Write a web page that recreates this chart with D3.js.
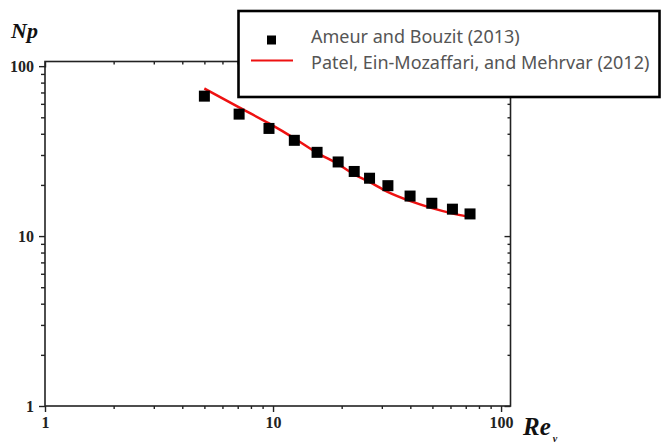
<!DOCTYPE html>
<html>
<head>
<meta charset="utf-8">
<script src="https://cdn.jsdelivr.net/npm/d3@7"></script>
<style>
  body { margin: 0; background: #fff; }
  svg { display: block; }
</style>
</head>
<body>
<div id="chart"></div>
<script>
// Ameur and Bouzit (2013) - square markers
var ameurRe = [5.0, 7.1, 9.6, 12.4, 15.6, 19.3, 22.7, 26.5, 31.9, 39.9, 49.7, 61.2, 73.1];
var ameurNp = [66.6, 52.2, 43.0, 36.6, 31.1, 27.3, 24.0, 21.9, 19.8, 17.2, 15.6, 14.4, 13.5];

// Patel, Ein-Mozaffari, and Mehrvar (2012) - red curve
var patelRe = [5.0, 7.1, 9.6, 12.4, 15.6, 19.3, 22.6, 26.3, 31.8, 39.8, 49.8, 61.1, 71.6];
var patelNp = [73.9, 57.2, 46.0, 37.6, 30.9, 26.5, 23.1, 20.9, 18.2, 16.1, 14.6, 13.6, 13.0];

var majorTicks = [1, 10, 100];
var minorTicks = [2, 3, 4, 5, 6, 7, 8, 9, 20, 30, 40, 50, 60, 70, 80, 90];

var legendLabels = ['Ameur and Bouzit (2013)', 'Patel, Ein-Mozaffari, and Mehrvar (2012)'];

var chart_width = 661;
var chart_height = 443;
// plot frame edges (note: "top" is reserved on window, so use plot_*)
var plot_left = 45, plot_right = 510.5, plot_top = 61.5, plot_bottom = 406;

var svg = d3.select('#chart')
    .append('svg')
    .attr('width', chart_width)
    .attr('height', chart_height);

var xScale = d3.scaleLog()
    .domain([1, 110])
    .range([plot_left, plot_right]);

var yScale = d3.scaleLog()
    .domain([1, 106.5])
    .range([plot_bottom, plot_top]);

var axisColor = '#222';

// frame
svg.append('rect')
    .attr('x', plot_left)
    .attr('y', plot_top)
    .attr('width', plot_right - plot_left)
    .attr('height', plot_bottom - plot_top)
    .attr('fill', 'none')
    .attr('stroke', axisColor)
    .attr('stroke-width', 1.6);

function styleAxis(g) {
    g.select('.domain').remove();
    g.selectAll('.tick line').attr('stroke', axisColor).attr('stroke-width', 1.4);
    g.selectAll('.tick text')
        .attr('font-family', '"Liberation Serif", serif')
        .attr('font-weight', 'bold')
        .attr('font-size', 16)
        .attr('fill', '#222');
}

// bottom axis
svg.append('g')
    .attr('transform', 'translate(0,' + plot_bottom + ')')
    .call(d3.axisBottom(xScale).tickValues(majorTicks).tickFormat(d3.format('d')).tickSize(6).tickPadding(5))
    .call(styleAxis);
svg.append('g')
    .attr('transform', 'translate(0,' + plot_bottom + ')')
    .call(d3.axisBottom(xScale).tickValues(minorTicks).tickFormat('').tickSize(3))
    .call(styleAxis);

// left axis
svg.append('g')
    .attr('transform', 'translate(' + plot_left + ',0)')
    .call(d3.axisLeft(yScale).tickValues(majorTicks).tickFormat(d3.format('d')).tickSize(6).tickPadding(5))
    .call(styleAxis);
svg.append('g')
    .attr('transform', 'translate(' + plot_left + ',0)')
    .call(d3.axisLeft(yScale).tickValues(minorTicks).tickFormat('').tickSize(4))
    .call(styleAxis);

// top axis (ticks inward)
svg.append('g')
    .attr('transform', 'translate(0,' + plot_top + ')')
    .call(d3.axisTop(xScale).tickValues(majorTicks).tickFormat('').tickSize(-6))
    .call(styleAxis);
svg.append('g')
    .attr('transform', 'translate(0,' + plot_top + ')')
    .call(d3.axisTop(xScale).tickValues(minorTicks).tickFormat('').tickSize(-3))
    .call(styleAxis);

// right axis (ticks inward)
svg.append('g')
    .attr('transform', 'translate(' + plot_right + ',0)')
    .call(d3.axisRight(yScale).tickValues(majorTicks).tickFormat('').tickSize(-6))
    .call(styleAxis);
svg.append('g')
    .attr('transform', 'translate(' + plot_right + ',0)')
    .call(d3.axisRight(yScale).tickValues(minorTicks).tickFormat('').tickSize(-3))
    .call(styleAxis);

// axis titles
svg.append('text')
    .attr('x', 11)
    .attr('y', 38)
    .attr('font-family', '"Liberation Serif", serif')
    .attr('font-style', 'italic')
    .attr('font-weight', 'bold')
    .attr('font-size', 22)
    .attr('fill', '#111')
    .text('Np');

var reLabel = svg.append('text')
    .attr('x', 523)
    .attr('y', 435)
    .attr('font-family', '"Liberation Serif", serif')
    .attr('font-style', 'italic')
    .attr('font-weight', 'bold')
    .attr('font-size', 25)
    .attr('fill', '#111');
reLabel.append('tspan').text('Re');
reLabel.append('tspan')
    .attr('font-size', 10)
    .attr('dy', 7)
    .attr('dx', 2)
    .text('v');

// red curve
var patel = patelRe.map(function(d, i) { return [d, patelNp[i]]; });
var line = d3.line()
    .x(function(d) { return xScale(d[0]); })
    .y(function(d) { return yScale(d[1]); })
    .curve(d3.curveMonotoneX);

svg.append('path')
    .datum(patel)
    .attr('d', line)
    .attr('fill', 'none')
    .attr('stroke', '#ee1111')
    .attr('stroke-width', 2.5);

// square markers
var sq = 11;
svg.selectAll('rect.pt')
    .data(ameurRe)
    .enter()
    .append('rect')
    .attr('class', 'pt')
    .attr('x', function(d) { return xScale(d) - sq / 2; })
    .attr('y', function(d, i) { return yScale(ameurNp[i]) - sq / 2; })
    .attr('width', sq)
    .attr('height', sq)
    .attr('fill', '#000');

// legend box
svg.append('rect')
    .attr('x', 238.5)
    .attr('y', 11)
    .attr('width', 421)
    .attr('height', 86)
    .attr('fill', '#fff')
    .attr('stroke', '#000')
    .attr('stroke-width', 2.6);

svg.append('rect')
    .attr('x', 267)
    .attr('y', 35.5)
    .attr('width', 9)
    .attr('height', 9)
    .attr('fill', '#000');

svg.append('line')
    .attr('x1', 251)
    .attr('x2', 293)
    .attr('y1', 60.5)
    .attr('y2', 60.5)
    .attr('stroke', '#ee1111')
    .attr('stroke-width', 2);

svg.selectAll('text.leg')
    .data(legendLabels)
    .enter()
    .append('text')
    .attr('class', 'leg')
    .attr('x', 311)
    .attr('y', function(d, i) { return 43 + i * 25.5; })
    .attr('font-family', '"Noto Sans", sans-serif')
    .attr('font-size', 18)
    .attr('fill', '#555')
    .text(function(d) { return d; });
</script>
</body>
</html>
